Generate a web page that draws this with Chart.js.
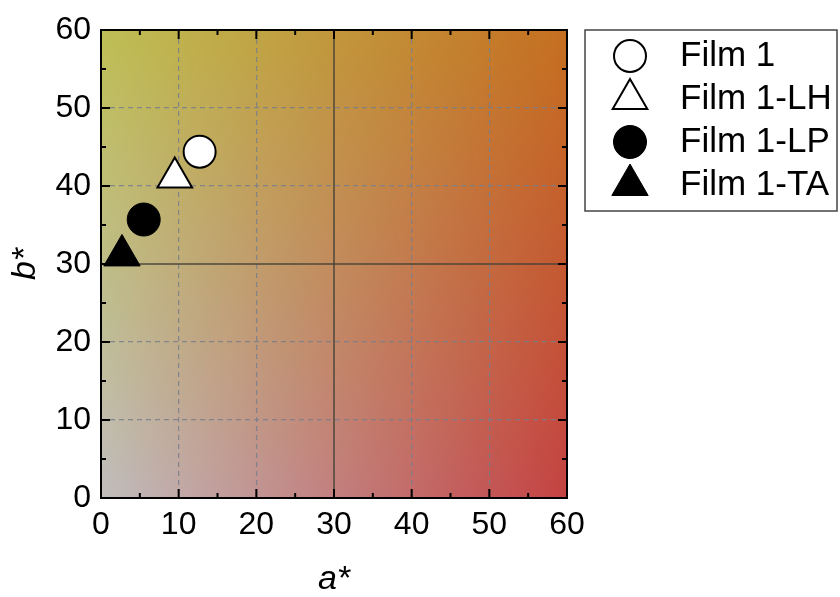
<!DOCTYPE html>
<html>
<head>
<meta charset="utf-8">
<script src="https://cdn.jsdelivr.net/npm/chart.js@4"></script>
<style>
  html, body { margin: 0; padding: 0; background: #fff; }
</style>
</head>
<body>
<canvas id="chart" width="840" height="597"></canvas>
<script>
// Data
const seriesNames = ['Film 1', 'Film 1-LH', 'Film 1-LP', 'Film 1-TA'];
const aValues = [12.7, 9.5, 5.5, 2.7];
const bValues = [44.4, 41.1, 35.7, 31.1];
const axisTicks = [0, 10, 20, 30, 40, 50, 60];
const centerLine = 30;

const markerStyles = ['circle', 'triangle', 'circle', 'triangle'];
const markerFills = ['#ffffff', '#ffffff', '#000000', '#000000'];
const markerSizes = [16, 20, 16.5, 21];
const markerBorders = [2, 2, 1, 1];

const FONT = '"Liberation Sans", Arial, sans-serif';
Chart.defaults.font.family = FONT;
Chart.defaults.color = '#000';

// Corner colours of the a*/b* colour field
const cTL = [190, 191, 84], cTR = [197, 111, 32];
const cBL = [192, 189, 188], cBR = [196, 66, 66];

const colorField = {
    id: 'colorField',
    beforeDraw(chart) {
        const { ctx, chartArea: a } = chart;
        const w = Math.round(a.right - a.left), h = Math.round(a.bottom - a.top);
        const img = ctx.createImageData(w, h);
        let k = 0;
        for (let j = 0; j < h; j++) {
            const v = j / (h - 1);
            for (let i = 0; i < w; i++) {
                const u = i / (w - 1);
                for (let c = 0; c < 3; c++) {
                    const top = cTL[c] * (1 - u) + cTR[c] * u;
                    const bot = cBL[c] * (1 - u) + cBR[c] * u;
                    img.data[k + c] = top * (1 - v) + bot * v;
                }
                img.data[k + 3] = 255;
                k += 4;
            }
        }
        ctx.putImageData(img, Math.round(a.left), Math.round(a.top));
    }
};

// Frame with inward ticks on all four sides
const frameTicks = {
    id: 'frameTicks',
    afterDraw(chart) {
        const { ctx, chartArea: a, scales: { x, y } } = chart;
        ctx.save();
        ctx.strokeStyle = '#000';
        ctx.lineWidth = 2;
        ctx.strokeRect(a.left, a.top, a.right - a.left, a.bottom - a.top);
        ctx.beginPath();
        x.ticks.forEach((t, i) => {
            const vals = [t.value];
            if (i < x.ticks.length - 1) vals.push((t.value + x.ticks[i + 1].value) / 2);
            vals.forEach((v, n) => {
                const len = n === 0 ? 9 : 5;
                const px = x.getPixelForValue(v);
                ctx.moveTo(px, a.bottom); ctx.lineTo(px, a.bottom - len);
                ctx.moveTo(px, a.top); ctx.lineTo(px, a.top + len);
            });
        });
        y.ticks.forEach((t, i) => {
            const vals = [t.value];
            if (i < y.ticks.length - 1) vals.push((t.value + y.ticks[i + 1].value) / 2);
            vals.forEach((v, n) => {
                const len = n === 0 ? 9 : 5;
                const py = y.getPixelForValue(v);
                ctx.moveTo(a.left, py); ctx.lineTo(a.left + len, py);
                ctx.moveTo(a.right, py); ctx.lineTo(a.right - len, py);
            });
        });
        ctx.stroke();
        ctx.restore();
    }
};

function drawMarker(ctx, style, r, x, y) {
    ctx.beginPath();
    if (style === 'triangle') {
        for (let k = 0; k < 3; k++) {
            const ang = k * 2 * Math.PI / 3;
            const px = x + Math.sin(ang) * r, py = y - Math.cos(ang) * r;
            if (k) ctx.lineTo(px, py); else ctx.moveTo(px, py);
        }
        ctx.closePath();
    } else {
        ctx.arc(x, y, r, 0, Math.PI * 2);
    }
    ctx.fill();
    ctx.stroke();
}

// Boxed legend to the right of the plot
const boxLegend = {
    id: 'boxLegend',
    afterDraw(chart) {
        const { ctx } = chart;
        ctx.save();
        ctx.strokeStyle = '#444';
        ctx.lineWidth = 1.5;
        ctx.strokeRect(585, 30, 252, 181);
        chart.data.datasets.forEach((ds, i) => {
            const yy = 56 + i * 43;
            ctx.fillStyle = ds.backgroundColor;
            ctx.strokeStyle = ds.borderColor;
            ctx.lineWidth = ds.borderWidth;
            drawMarker(ctx, ds.pointStyle, ds.pointRadius, 630, yy);
            ctx.fillStyle = '#000';
            ctx.font = '35px ' + FONT;
            ctx.textBaseline = 'middle';
            ctx.textAlign = 'left';
            ctx.fillText(ds.label, 680, yy);
        });
        ctx.restore();
    }
};

const gridColor = c => {
    const v = c.tick ? c.tick.value : null;
    if (v === 0 || v === 60) return 'rgba(0,0,0,0)';
    if (v === centerLine) return 'rgba(70,66,56,0.7)';
    return 'rgba(120,126,140,0.85)';
};
const gridWidth = c => (c.tick && c.tick.value === centerLine ? 2 : 1.2);
const gridDash = c => (c.tick && c.tick.value === centerLine ? [] : [5, 4]);

function axis(extra) {
    return Object.assign({
        type: 'linear',
        min: 0,
        max: 60,
        afterBuildTicks: s => { s.ticks = axisTicks.map(v => ({ value: v })); },
        grid: { drawTicks: false, color: gridColor, lineWidth: gridWidth },
        border: { display: false, dash: gridDash }
    }, extra);
}

new Chart(document.getElementById('chart'), {
    type: 'scatter',
    data: {
        datasets: seriesNames.map((name, i) => ({
            label: name,
            data: [{ x: aValues[i], y: bValues[i] }],
            pointStyle: markerStyles[i],
            pointRadius: markerSizes[i],
            pointHoverRadius: markerSizes[i],
            backgroundColor: markerFills[i],
            borderColor: '#000000',
            borderWidth: markerBorders[i],
            clip: false
        }))
    },
    options: {
        responsive: false,
        devicePixelRatio: 1,
        animation: false,
        layout: { autoPadding: false, padding: { left: 0, top: 30, right: 273, bottom: 0 } },
        plugins: { legend: { display: false }, tooltip: { enabled: false } },
        scales: {
            x: axis({
                afterFit: s => { s.height = 99; },
                ticks: { font: { size: 32 }, padding: 8, maxRotation: 0, autoSkip: false },
                title: { display: true, text: 'a*', padding: 0, font: { size: 34, style: 'italic', lineHeight: 1 } }
            }),
            y: axis({
                afterFit: s => { s.width = 101; },
                ticks: { font: { size: 32 }, padding: 10, autoSkip: false },
                title: { display: true, text: 'b*', padding: 9, font: { size: 34, style: 'italic', lineHeight: 1 } }
            })
        }
    },
    plugins: [colorField, frameTicks, boxLegend]
});
</script>
</body>
</html>
